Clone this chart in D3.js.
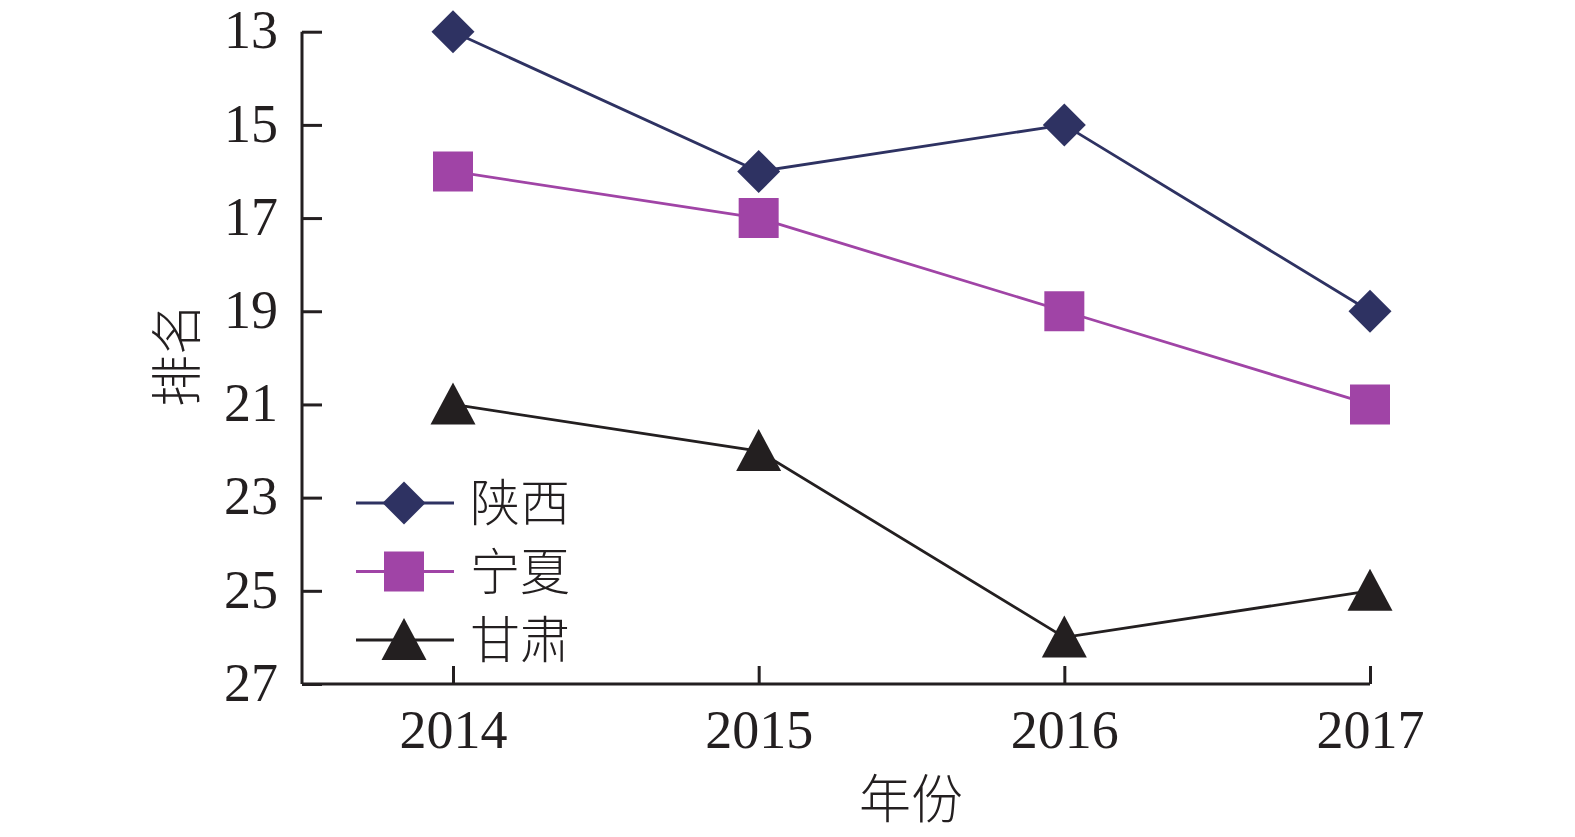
<!DOCTYPE html>
<html>
<head>
<meta charset="utf-8">
<script src="https://cdn.jsdelivr.net/npm/d3@7"></script>
<style>
  body { margin: 0; background: #fff; }
  text { font-family: "Liberation Serif", "Noto Sans CJK SC", serif; fill: #231f20; }
</style>
</head>
<body>
<div id="chart"></div>
<script>
const years = ["2014", "2015", "2016", "2017"];
const shaanxi = [13, 16, 15, 19];
const ningxia = [16, 17, 19, 21];
const gansu = [21, 22, 26, 25];
const yTicks = [13, 15, 17, 19, 21, 23, 25, 27];

const series = [
    {name: "陕西", values: shaanxi, colour: "#2e3262", symbol: "diamond"},
    {name: "宁夏", values: ningxia, colour: "#a044a6", symbol: "square"},
    {name: "甘肃", values: gansu, colour: "#231f20", symbol: "triangle"}
];

const width = 1575, height = 837;
const axisLeft = 302, axisBottom = 684;

const svg = d3.select("#chart").append("svg")
    .attr("width", width)
    .attr("height", height);

const x = d3.scalePoint()
    .domain(years)
    .range([453, 1370]);

const y = d3.scaleLinear()
    .domain([13, 27])
    .range([31.7, axisBottom]);

// y axis, ticks pointing inward
const yAxis = svg.append("g")
    .attr("transform", `translate(${axisLeft}, 0)`)
    .call(d3.axisRight(y).tickValues(yTicks).tickSize(20).tickSizeOuter(0).tickFormat(d3.format("d")));
yAxis.select(".domain").attr("stroke", "#231f20").attr("stroke-width", 3)
    .attr("d", `M0,${y(13)}V${axisBottom}`);
yAxis.selectAll(".tick line").attr("stroke", "#231f20").attr("stroke-width", 3);
yAxis.selectAll(".tick text")
    .attr("x", -24)
    .attr("dy", "0.3em")
    .attr("text-anchor", "end")
    .style("font-size", "54px");

// x axis, ticks pointing up
const xAxis = svg.append("g")
    .attr("transform", `translate(0, ${axisBottom})`)
    .call(d3.axisTop(x).tickSize(18).tickSizeOuter(0));
xAxis.select(".domain").attr("stroke", "#231f20").attr("stroke-width", 3)
    .attr("d", `M${axisLeft},0H${x("2017")}`);
xAxis.selectAll(".tick line").attr("stroke", "#231f20").attr("stroke-width", 3);
xAxis.selectAll(".tick text")
    .attr("y", 64)
    .attr("dy", 0)
    .attr("text-anchor", "middle")
    .style("font-size", "54px");

// axis titles
svg.append("text")
    .attr("transform", `translate(196, 355) rotate(-90)`)
    .attr("text-anchor", "middle")
    .style("font-family", "'Noto Sans CJK SC'")
    .style("font-size", "52px")
    .style("font-weight", 300)
    .text("排名");

svg.append("text")
    .attr("x", 911)
    .attr("y", 818)
    .attr("text-anchor", "middle")
    .style("font-family", "'Noto Sans CJK SC'")
    .style("font-size", "52px")
    .style("font-weight", 300)
    .text("年份");

const symbolPath = (type) => {
    if (type === "diamond") return "M0,-21.5L21.5,0L0,21.5L-21.5,0Z";
    if (type === "square") return "M-20,-20H20V20H-20Z";
    return "M0,-22L22.5,20H-22.5Z";
};

const line = d3.line()
    .x((d, i) => x(years[i]))
    .y(d => y(d));

series.forEach(s => {
    svg.append("path")
        .attr("d", line(s.values))
        .attr("fill", "none")
        .attr("stroke", s.colour)
        .attr("stroke-width", 2.8);

    svg.selectAll(null)
        .data(s.values)
        .join("path")
        .attr("transform", (d, i) => `translate(${x(years[i])}, ${y(d)})`)
        .attr("d", symbolPath(s.symbol))
        .attr("fill", s.colour);
});

// legend
const legend = svg.append("g")
    .attr("transform", "translate(356, 503)");

const legendItem = legend.selectAll("g")
    .data(series)
    .join("g")
    .attr("transform", (d, i) => `translate(0, ${i * 68.5})`);

legendItem.append("line")
    .attr("x1", 0)
    .attr("x2", 98)
    .attr("stroke", d => d.colour)
    .attr("stroke-width", 2.8);

legendItem.append("path")
    .attr("transform", "translate(48, 0)")
    .attr("d", d => symbolPath(d.symbol))
    .attr("fill", d => d.colour);

legendItem.append("text")
    .attr("x", 114)
    .attr("dy", "0.36em")
    .style("font-family", "'Noto Sans CJK SC'")
    .style("font-size", "50px")
    .style("font-weight", 300)
    .text(d => d.name);
</script>
</body>
</html>
